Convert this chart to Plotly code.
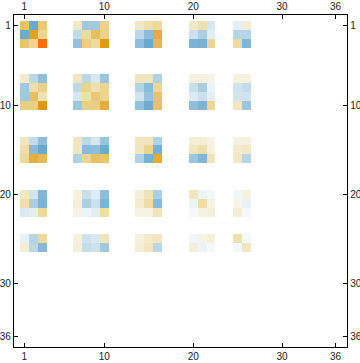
import plotly.graph_objects as go

tick_vals = [1, 10, 20, 30, 36]
row_groups = [[1, 2, 3], [7, 8, 9, 10], [14, 15, 16], [20, 21, 22], [25, 26]]
col_groups = [[1, 2, 3], [7, 8, 9, 10], [14, 15, 16], [20, 21, 22], [25, 26]]

band_1 = [
    [[.55, -.8, .5], [-.78, .75, .4], [.53, .4, 1]],
    [[.2, -.5, -.5, .42], [-.33, .33, .58, .42], [-.58, .45, .33, .8]],
    [[.2, .3, .35], [-.37, -.62, .68], [-.6, -.8, .62]],
    [[.2, .28, -.22], [-.28, -.45, -.17], [-.7, -.72, .38]],
    [[-.15, .14], [-.4, -.4], [.33, -.68]],
]
band_2 = [
    [[.18, -.37, -.6], [-.5, .3, .43], [-.5, .57, .25], [.45, .44, .8]],
    [[.22, -.37, -.22, -.53], [-.36, .4, .28, .4], [-.23, .29, .5, .4], [-.53, .44, .44, .68]],
    [[.22, .22, -.43], [-.4, -.63, .36], [-.25, -.55, .53], [-.58, -.78, .55]],
    [[.1, .1, .07], [-.3, -.46, -.1], [-.2, -.28, -.15], [-.6, -.7, .38]],
    [[.1, .1], [-.26, -.33], [-.25, -.26], [.22, -.53]],
]
band_3 = [
    [[.22, -.33, -.6], [.3, -.63, -.8], [.35, .68, .62]],
    [[.22, -.37, -.23, -.54], [.22, -.62, -.6, -.78], [-.42, .4, .57, .53]],
    [[.22, .22, -.43], [.22, .4, -.72], [-.42, -.72, .7]],
    [[.13, .13, .07], [.22, .29, .1], [-.53, -.67, .25]],
    [[.09, .1], [.17, .2], [.2, -.38]],
]
band_4 = [
    [[.2, -.25, -.67], [.28, -.46, -.7], [-.2, -.15, .36]],
    [[.1, -.3, -.18, -.6], [.12, -.45, -.28, -.7], [.07, -.1, -.17, .31]],
    [[.12, .25, -.45], [.16, .31, -.63], [.07, .07, .24]],
    [[.22, -.08, -.05], [-.08, .31, .07], [-.04, .07, .12]],
    [[-.07, .09], [.05, -.12], [.13, -.04]],
]
band_5 = [
    [[-.12, -.4, .35], [.13, -.37, -.65]],
    [[.1, -.27, -.22, .24], [.12, -.33, -.27, -.5]],
    [[.1, .17, .22], [.13, .22, -.37]],
    [[-.07, .07, .13], [.13, -.1, -.04]],
    [[.28, -.05], [-.05, .22]],
]
bands = [band_1, band_2, band_3, band_4, band_5]

colorscale = [
    [0.0, "#5a9fc8"], [0.1, "#6BA8CE"], [0.2, "#8FBEDA"], [0.3, "#B5D4E6"],
    [0.4, "#DCEAF2"], [0.475, "#F3F8FB"], [0.5, "#FFFFFF"], [0.525, "#F7F5EA"],
    [0.6, "#F1E8C6"], [0.7, "#EDD48F"], [0.8, "#E6BC5B"], [0.9, "#E09A12"],
    [1.0, "#FF6E00"],
]

n = 36
z = [[None] * n for _ in range(n)]
for band, rows in zip(bands, row_groups):
    for block, cols in zip(band, col_groups):
        for row_vals, r in zip(block, rows):
            for v, c in zip(row_vals, cols):
                z[r - 1][c - 1] = v

xrange_ = [-0.16, 37.3]
yrange_ = [37.13, -0.17]
font = dict(family="Liberation Sans, Arial, sans-serif", size=10, color="#222222")

fig = go.Figure()
fig.add_trace(go.Heatmap(
    x=list(range(1, n + 1)), y=list(range(1, n + 1)), z=z,
    colorscale=colorscale, zmin=-1, zmax=1, showscale=False, hoverongaps=False,
    xaxis="x", yaxis="y",
))
fig.add_trace(go.Scatter(x=[None], y=[None], xaxis="x2", yaxis="y2", showlegend=False,
                         mode="markers", marker=dict(opacity=0)))

axis = dict(tickmode="array", tickvals=tick_vals, ticktext=[str(t) for t in tick_vals],
            showgrid=False, zeroline=False, showline=True, linecolor="black", linewidth=1.3,
            ticks="inside", ticklen=4, tickwidth=1, tickcolor="black", tickfont=font,
            automargin=False)
fig.update_layout(
    width=360, height=363, margin=dict(l=13.7, r=13.3, t=15.3, b=15.7),
    autosize=False,
    paper_bgcolor="white", plot_bgcolor="white", showlegend=False,
    xaxis=dict(axis, range=xrange_, side="bottom"),
    yaxis=dict(axis, range=yrange_, side="left"),
    xaxis2=dict(axis, range=xrange_, side="top", overlaying="x", anchor="y"),
    yaxis2=dict(axis, range=yrange_, side="right", overlaying="y", anchor="x"),
)
fig.write_html("out.html", config=dict(displayModeBar=False),
               post_script="document.body.style.margin='0';document.body.style.overflow='hidden';")
